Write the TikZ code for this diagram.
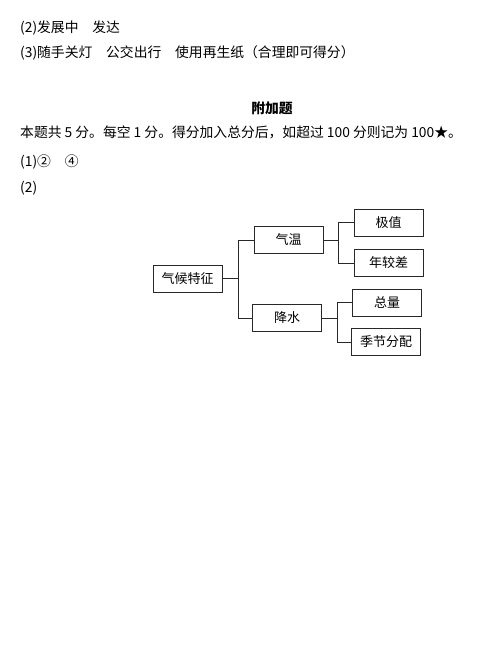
\documentclass[tikz,border=0pt]{standalone}
\usepackage{fontspec}
\setmainfont{Noto Sans CJK SC}
\definecolor{inkline}{RGB}{40,40,40}

\begin{document}
\begin{tikzpicture}[x=1pt,y=-1pt,
  para/.style={anchor=west,inner sep=0pt,font=\fontsize{13.8}{16}\selectfont},
  box/.style={rectangle,draw=inkline,line width=0.8pt,inner sep=0pt,
    minimum width=69pt,minimum height=27pt,font=\fontsize{13}{15}\selectfont},
  link/.style={draw=inkline,line width=0.7pt}
]
\useasboundingbox (0,0) rectangle (482,663);
\node[para] (ans2) at (20,28) {(2)发展中　发达};
\node[para] (ans3) at (20,53) {(3)随手关灯　公交出行　使用再生纸（合理即可得分）};
\node[font=\fontsize{13.8}{16}\selectfont\bfseries,inner sep=0pt] (title) at (272,108) {附加题};
\node[para] (rule) at (20,132) {本题共 5 分。每空 1 分。得分加入总分后，如超过 100 分则记为 100★。};
\node[para] (q1) at (20,162) {(1)②　④};
\node[para] (q2) at (20,188) {(2)};
% tree
\node[box] (climate) at (187.5,278.5) {气候特征};
\node[box] (temp) at (288.5,240) {气温};
\node[box] (rain) at (287,318) {降水};
\node[box] (extreme) at (388.5,222.5) {极值};
\node[box] (range) at (388.5,263) {年较差};
\node[box] (total) at (387,302.5) {总量};
\node[box] (season) at (386,342) {季节分配};
\coordinate (j1) at (238,278.5);
\coordinate (j2) at (338,240);
\coordinate (j3) at (337,318);
\draw[link] (climate.east) -- (j1) |- (temp.west);
\draw[link] (j1) |- (rain.west);
\draw[link] (temp.east) -- (j2) |- (extreme.west);
\draw[link] (j2) |- (range.west);
\draw[link] (rain.east) -- (j3) |- (total.west);
\draw[link] (j3) |- (season.west);
\end{tikzpicture}
\end{document}
